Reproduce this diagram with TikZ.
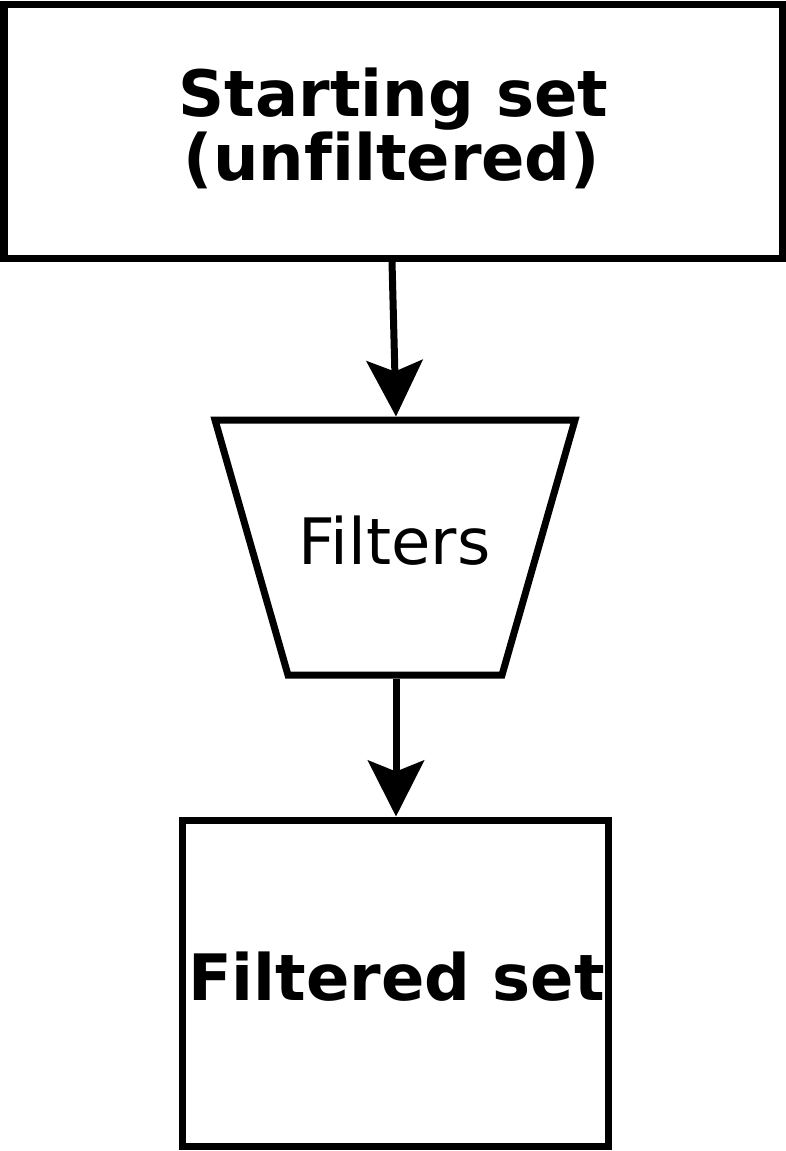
\documentclass[tikz,border=0pt]{standalone}
\usepackage{fontspec}
\setmainfont[Ligatures=NoCommon]{DejaVu Sans}
\usetikzlibrary{arrows.meta}
\tikzset{
  boxstyle/.style={draw=black, line width=7pt, rectangle, inner sep=0pt, outer sep=3.5pt},
  flowarrow/.style={draw=black, line width=7pt, -{Stealth[length=56pt, width=56pt, inset=11pt]}},
  boldlabel/.style={font=\fontsize{64}{64}\selectfont\bfseries, inner sep=0pt, anchor=base},
  plainlabel/.style={font=\fontsize{64}{64}\selectfont, inner sep=0pt, anchor=base},
}
\begin{document}
\begin{tikzpicture}[x=1pt, y=-1pt]
\useasboundingbox (0,0) rectangle (786,1151);
% top box
\node[boxstyle, minimum width=778pt, minimum height=254pt] (start) at (393,131) {};
\node[boldlabel] (t1) at (393.5,116) {Starting set};
\node[boldlabel] (t2) at (392,180) {(unfiltered)};
% filter trapezoid
\draw[line width=7pt, line join=miter] (215,420) -- (575,420) -- (502,675) -- (288,675) -- cycle;
\coordinate (ftop) at (396,416.5);
\coordinate (fbot) at (396,678.5);
\node[plainlabel] (filt) at (394.5,564) {Filters};
% bottom box
\node[boxstyle, minimum width=426pt, minimum height=326pt] (result) at (395,983) {};
\node[boldlabel] (t3) at (396.5,1000) {Filtered set};
% arrow anchors
\coordinate (a1s) at (392,261.5);
\coordinate (a2e) at (396,816.5);
% arrows
\draw[flowarrow] (a1s) -- (ftop);
\draw[flowarrow] (fbot) -- (a2e);
\end{tikzpicture}
\end{document}
